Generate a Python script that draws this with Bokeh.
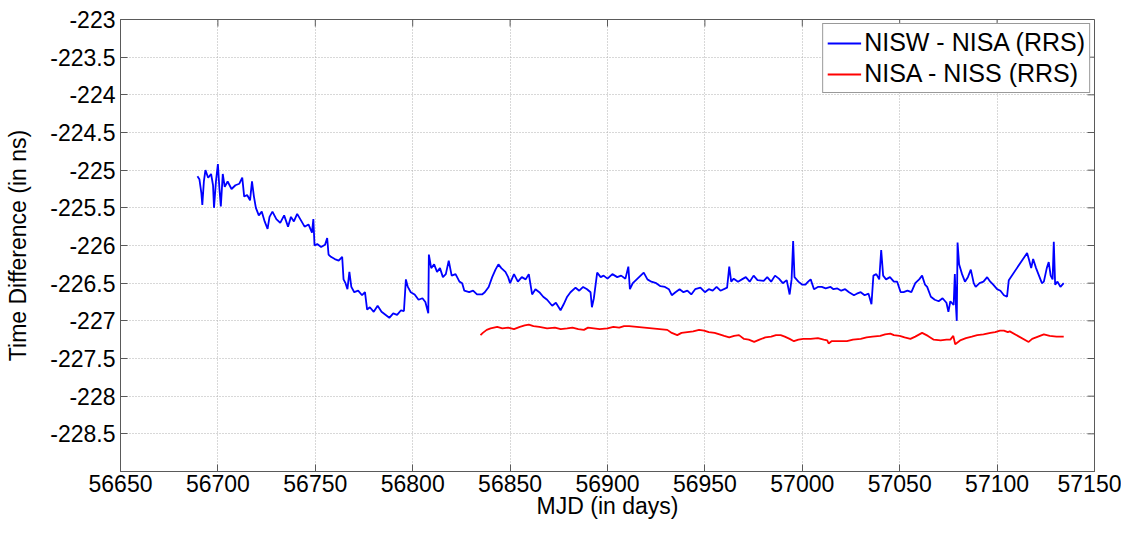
import math
from bokeh.plotting import figure
from bokeh.models import Range1d, FixedTicker, Legend, LegendItem
from bokeh.embed import file_html
from bokeh.resources import INLINE

# ---- data ----
blue_mjd = [56689.5, 56690.5, 56691.5, 56692.0, 56692.8, 56693.6, 56695, 56696.5, 56697.5, 56698,
            56699, 56700, 56700.8, 56701.5, 56702.5, 56703.5, 56705, 56707, 56709, 56711,
            56712.5, 56713.5, 56715, 56716.5, 56717.5, 56718.5, 56719.5, 56721, 56722.5, 56724,
            56725.5, 56726.5, 56728, 56730, 56732, 56734, 56736, 56737.5, 56739, 56740.7,
            56742.5, 56744.5, 56746.5, 56748.3, 56749.0, 56749.6, 56751, 56753, 56755, 56756.1,
            56756.8, 56758, 56760, 56762, 56763.8, 56764.5, 56765.5, 56766.5, 56767.5, 56768.5,
            56770, 56772, 56774, 56775.5, 56776.6, 56778, 56780, 56782, 56784, 56786,
            56788, 56790, 56792, 56794, 56795.5, 56796.5, 56797.5, 56799, 56801, 56803,
            56805, 56806.5, 56808, 56808.3, 56809.5, 56811, 56812.5, 56814, 56815.5, 56817,
            56818.5, 56820, 56822, 56824, 56825.4, 56826.5, 56829, 56831, 56833, 56835.6,
            56837, 56839, 56840.8, 56842.5, 56844, 56845.5, 56847.6, 56849, 56850, 56852,
            56854, 56856, 56858, 56859.6, 56861.3, 56863, 56865, 56867, 56869, 56871.6,
            56873.5, 56875.9, 56877.5, 56879.3, 56881, 56883.6, 56885.5, 56887.5, 56889.5, 56891.3,
            56892, 56893, 56894.7, 56896.5, 56898, 56900, 56902.5, 56905, 56907, 56909.2,
            56910.7, 56911.5, 56913, 56915, 56917, 56918.6, 56920.5, 56922.5, 56925, 56927.2,
            56929.5, 56931.5, 56933, 56934.9, 56937, 56939, 56941, 56943, 56945, 56947.7,
            56950, 56952, 56954, 56956, 56958, 56961.4, 56962.5, 56963.5, 56964.8, 56967,
            56969, 56971, 56973, 56975, 56977, 56980.2, 56982, 56984, 56986, 56988,
            56990, 56992, 56993.5, 56994.5, 56995.3, 56996, 56998, 57000, 57001.6, 57003,
            57004.3, 57006, 57008, 57010, 57012, 57014.5, 57016, 57018, 57020, 57022,
            57024, 57026.5, 57028, 57030, 57032, 57034, 57035.5, 57036.5, 57038, 57039.5,
            57040.5, 57041.5, 57043, 57045, 57047, 57048.7, 57050.5, 57052, 57054, 57056,
            57058, 57060, 57061.5, 57063, 57064.1, 57066, 57068, 57070, 57072, 57074,
            57075, 57076, 57077.7, 57078.3, 57078.9, 57079.3, 57079.7, 57080.5, 57082, 57083.5,
            57085, 57086.5, 57088, 57089, 57091, 57093, 57094.9, 57096.5, 57098, 57100,
            57101.7, 57103.5, 57105.1, 57106, 57115.4, 57116.5, 57117.5, 57118.5, 57120, 57121.5,
            57123, 57124, 57125.5, 57126.5, 57127.5, 57128.5, 57129.1, 57129.8, 57131, 57132.5,
            57134.2]
blue_val = [-225.08, -225.12, -225.30, -225.46, -225.15, -225.00, -225.10, -225.05, -225.20, -225.50,
            -225.15, -224.92, -225.25, -225.48, -225.05, -225.22, -225.15, -225.25, -225.20, -225.18,
            -225.10, -225.35, -225.33, -225.40, -225.15, -225.35, -225.50, -225.60, -225.55, -225.68,
            -225.78, -225.62, -225.55, -225.65, -225.70, -225.60, -225.75, -225.62, -225.68, -225.58,
            -225.66, -225.75, -225.72, -225.83, -225.65, -226.00, -225.98, -226.02, -225.99, -225.90,
            -226.12, -226.15, -226.18, -226.20, -226.15, -226.45, -226.50, -226.58, -226.35, -226.55,
            -226.62, -226.60, -226.66, -226.62, -226.85, -226.82, -226.88, -226.80, -226.88, -226.92,
            -226.96, -226.90, -226.92, -226.86, -226.87, -226.45, -226.55, -226.62, -226.65, -226.72,
            -226.70, -226.75, -226.90, -226.12, -226.30, -226.25, -226.35, -226.30, -226.42, -226.38,
            -226.20, -226.40, -226.38, -226.48, -226.50, -226.60, -226.62, -226.60, -226.65, -226.65,
            -226.62, -226.55, -226.42, -226.32, -226.25, -226.30, -226.35, -226.42, -226.50, -226.38,
            -226.48, -226.42, -226.45, -226.38, -226.65, -226.58, -226.62, -226.68, -226.72, -226.80,
            -226.76, -226.86, -226.78, -226.68, -226.62, -226.56, -226.60, -226.55, -226.58, -226.62,
            -226.82, -226.70, -226.36, -226.42, -226.40, -226.44, -226.38, -226.42, -226.40, -226.44,
            -226.28, -226.58, -226.50, -226.45, -226.40, -226.36, -226.45, -226.48, -226.50, -226.54,
            -226.55, -226.58, -226.66, -226.62, -226.58, -226.62, -226.60, -226.65, -226.58, -226.56,
            -226.62, -226.58, -226.60, -226.55, -226.60, -226.56, -226.28, -226.48, -226.44, -226.48,
            -226.45, -226.42, -226.48, -226.40, -226.46, -226.47, -226.42, -226.48, -226.40, -226.44,
            -226.50, -226.46, -226.65, -226.45, -225.94, -226.42, -226.48, -226.52, -226.52, -226.48,
            -226.45, -226.58, -226.55, -226.55, -226.57, -226.55, -226.58, -226.57, -226.60, -226.58,
            -226.62, -226.66, -226.64, -226.62, -226.66, -226.64, -226.78, -226.40, -226.38, -226.45,
            -226.06, -226.40, -226.45, -226.42, -226.48, -226.48, -226.62, -226.62, -226.60, -226.62,
            -226.50, -226.45, -226.40, -226.52, -226.55, -226.68, -226.72, -226.74, -226.70, -226.76,
            -226.88, -226.74, -226.79, -226.38, -226.82, -227.00, -225.96, -226.25, -226.38, -226.48,
            -226.42, -226.32, -226.50, -226.55, -226.50, -226.48, -226.42, -226.48, -226.52, -226.58,
            -226.60, -226.66, -226.68, -226.46, -226.10, -226.20, -226.30, -226.18, -226.30, -226.40,
            -226.50, -226.48, -226.30, -226.22, -226.40, -226.45, -225.95, -226.52, -226.48, -226.55,
            -226.50]

red_mjd = [56834.8, 56836, 56838, 56840, 56843.4, 56846, 56849, 56852, 56855, 56857.5,
           56859.6, 56862, 56865, 56869, 56873, 56876, 56879.3, 56882, 56885, 56887.9,
           56890, 56893, 56896, 56900, 56903, 56906, 56908.5, 56911.1, 56930.7, 56933,
           56935.8, 56938, 56941, 56944, 56947, 56949.6, 56952, 56955, 56957.5, 56959.9,
           56962.5, 56965, 56967.5, 56970.1, 56972.5, 56975.3, 56978, 56981, 56984, 56986.5,
           56988.9, 56991, 56993.5, 56995.7, 56998, 57000.5, 57004.3, 57008, 57011, 57012.8,
           57013.5, 57015, 57019, 57022.9, 57026, 57030, 57033, 57036, 57040, 57042.5,
           57045.2, 57047, 57050, 57052.5, 57055.5, 57058, 57061.5, 57064.5, 57067.5, 57071,
           57074, 57076, 57077.5, 57078.5, 57081, 57084, 57087, 57089.8, 57093, 57096.6,
           57099, 57101.5, 57103.5, 57105.5, 57106.5, 57116.2, 57118, 57121, 57124, 57127,
           57130.5, 57134.2]
red_val = [-227.19, -227.16, -227.12, -227.10, -227.08, -227.10, -227.09, -227.11, -227.08, -227.06,
           -227.05, -227.07, -227.08, -227.10, -227.09, -227.11, -227.10, -227.09, -227.11, -227.12,
           -227.09, -227.10, -227.11, -227.10, -227.08, -227.09, -227.07, -227.07, -227.12, -227.16,
           -227.19, -227.16, -227.15, -227.14, -227.12, -227.13, -227.15, -227.16, -227.18, -227.20,
           -227.22, -227.20, -227.19, -227.24, -227.25, -227.28, -227.25, -227.22, -227.21, -227.19,
           -227.19, -227.21, -227.24, -227.27, -227.25, -227.24, -227.24, -227.23, -227.25, -227.26,
           -227.30, -227.27, -227.27, -227.27, -227.25, -227.24, -227.22, -227.21, -227.20, -227.18,
           -227.17, -227.19, -227.20, -227.22, -227.24, -227.21, -227.16, -227.20, -227.25, -227.26,
           -227.25, -227.25, -227.20, -227.31, -227.26, -227.23, -227.21, -227.19, -227.18, -227.16,
           -227.15, -227.13, -227.13, -227.15, -227.14, -227.28, -227.24, -227.21, -227.18, -227.20,
           -227.21, -227.21]

x_ticks = [56650, 56700, 56750, 56800, 56850, 56900, 56950, 57000, 57050, 57100, 57150]
y_ticks = [-228.5, -228, -227.5, -227, -226.5, -226, -225.5, -225, -224.5, -224, -223.5, -223]
x_lim = (56650, 57150)
y_lim = (-229, -223)
series_labels = ["NISW - NISA (RRS)", "NISA - NISS (RRS)"]

FONT = "Liberation Sans"
FS = "23px"
AXC = "#5a5a5a"

p = figure(width=1121, height=521, output_backend="svg", toolbar_location=None,
           x_range=Range1d(*x_lim), y_range=Range1d(*y_lim),
           min_border_left=120, min_border_right=27, min_border_top=19, min_border_bottom=48,
           x_axis_label="MJD (in days)", y_axis_label="Time Difference (in ns)")

p.outline_line_color = AXC
p.outline_line_width = 1

for ax in (p.xaxis[0], p.yaxis[0]):
    ax.major_label_text_font = FONT
    ax.major_label_text_font_size = FS
    ax.major_label_text_color = "black"
    ax.axis_label_text_font = FONT
    ax.axis_label_text_font_size = FS
    ax.axis_label_text_font_style = "normal"
    ax.axis_label_text_color = "black"
    ax.major_tick_in = 7
    ax.major_tick_out = 0
    ax.minor_tick_line_color = None
    ax.axis_line_color = AXC
    ax.major_tick_line_color = AXC

p.xaxis[0].ticker = FixedTicker(ticks=x_ticks)
p.yaxis[0].ticker = FixedTicker(ticks=y_ticks)
p.xaxis[0].major_label_overrides = {t: f"{t:g}" for t in x_ticks}
p.yaxis[0].major_label_overrides = {t: f"{t:g}" for t in y_ticks}
p.xaxis[0].major_label_standoff = 3
p.xaxis[0].axis_label_standoff = -2
p.yaxis[0].major_label_standoff = 5
p.yaxis[0].axis_label_standoff = 16

p.xgrid.ticker = FixedTicker(ticks=x_ticks)
p.ygrid.ticker = FixedTicker(ticks=y_ticks)
for g in (p.xgrid[0], p.ygrid[0]):
    g.grid_line_color = "#b0b0b0"
    g.grid_line_dash = "1 2"
    g.grid_line_width = 1

r_blue = p.line(blue_mjd, blue_val, line_color="#0000ff", line_width=1.8)
r_red = p.line(red_mjd, red_val, line_color="#ff0000", line_width=1.8)

# mirrored inward ticks on the top and right edges (MATLAB box style)
p.ray(x=x_ticks, y=[y_lim[1]] * len(x_ticks), length=7, length_units="screen",
      angle=-math.pi / 2, line_color=AXC, line_width=1)
p.ray(x=[x_lim[1]] * len(y_ticks), y=y_ticks, length=7, length_units="screen",
      angle=math.pi, line_color=AXC, line_width=1)

legend = Legend(items=[LegendItem(label=series_labels[0], renderers=[r_blue]),
                       LegendItem(label=series_labels[1], renderers=[r_red])],
                location="top_right")
legend.margin = 4
legend.padding = 4
legend.spacing = 2
legend.glyph_width = 34
legend.label_standoff = 3
legend.label_height = 28
legend.label_text_font = FONT
legend.label_text_font_size = "25px"
legend.label_text_color = "black"
legend.border_line_color = "#333333"
legend.border_line_width = 1
legend.background_fill_color = "white"
legend.background_fill_alpha = 1
p.add_layout(legend)

open("out.html", "w").write(file_html(p, INLINE))
